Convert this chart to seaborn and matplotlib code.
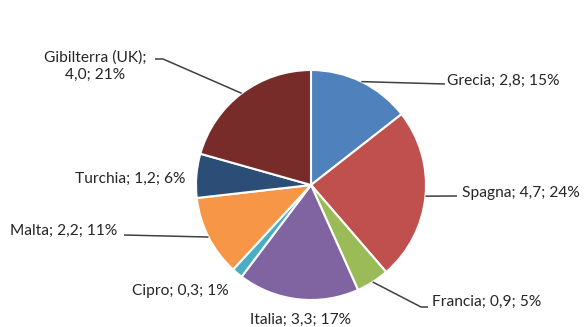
import numpy as np
import matplotlib
matplotlib.use("Agg")
import matplotlib.pyplot as plt
import seaborn as sns

# ---- data ----
countries = ["Grecia", "Spagna", "Francia", "Italia", "Cipro", "Malta", "Turchia", "Gibilterra (UK)"]
values = [2.8, 4.7, 0.9, 3.3, 0.3, 2.2, 1.2, 4.0]
percents = [15, 24, 5, 17, 1, 11, 6, 21]
colors = ["#4F81BD", "#C0504D", "#9BBB59", "#8064A2", "#4BACC6", "#F79646", "#2C4D75", "#772C2A"]

sns.set_theme(style="white")
plt.rcParams['font.family'] = ['Lato', 'DejaVu Sans']

W, H = 585, 327
fig = plt.figure(figsize=(W / 100, H / 100), dpi=100)
ax = fig.add_axes([0, 0, 1, 1])

# pixel layout: pie centre and radius
cx, cy, R = 311, 185, 115

pal = sns.color_palette(colors)
wedges, _ = ax.pie(values, colors=pal, startangle=90, counterclock=False, radius=1,
                   wedgeprops=dict(edgecolor="white", linewidth=1.5))
ax.set_aspect("auto")
ax.set_xlim(-cx / R, (W - cx) / R)
ax.set_ylim(-(H - cy) / R, cy / R)
ax.axis("off")

def px(x, y):
    return ((x - cx) / R, (cy - y) / R)

# label layout (pixel positions): (x, y, ha, leader?)
layout = [
    (447, 81, "left", True),
    (462, 193, "left", True),
    (432, 302, "left", True),
    (300, 320, "center", False),
    (132, 291, "left", False),
    (10, 231, "left", True),
    (75, 179, "left", False),
    (95, 66, "center", True),
]
# leader line path from wedge towards text (pixel points, text side last)
leader_pts = [
    [(445, 84)],
    [(457, 196)],
    [(421, 307), (428, 307)],
    None,
    None,
    [(124, 235)],
    None,
    [(163, 59), (155, 59)],
]

total = sum(values)
cum = 0.0
for i, (name, v, p) in enumerate(zip(countries, values, percents)):
    mid = 90 - (cum + v / 2) / total * 360
    cum += v
    vs = f"{v:.1f}".replace(".", ",")
    if name.startswith("Gibilterra"):
        label = f"{name};\n{vs}; {p}%"
    else:
        label = f"{name}; {vs}; {p}%"
    x, y, ha, lead = layout[i]
    tx, ty = px(x, y)
    ax.text(tx, ty, label, ha=ha, va="center", fontsize=11.2, color="#262626",
            linespacing=1.3)
    if lead:
        a = np.deg2rad(mid)
        xs = [np.cos(a)]
        ys = [np.sin(a)]
        for pt in leader_pts[i]:
            ex, ey = px(*pt)
            xs.append(ex)
            ys.append(ey)
        ax.plot(xs, ys, color="#404040", lw=1.1, solid_capstyle="butt")

fig.savefig("out.png", dpi=100)
